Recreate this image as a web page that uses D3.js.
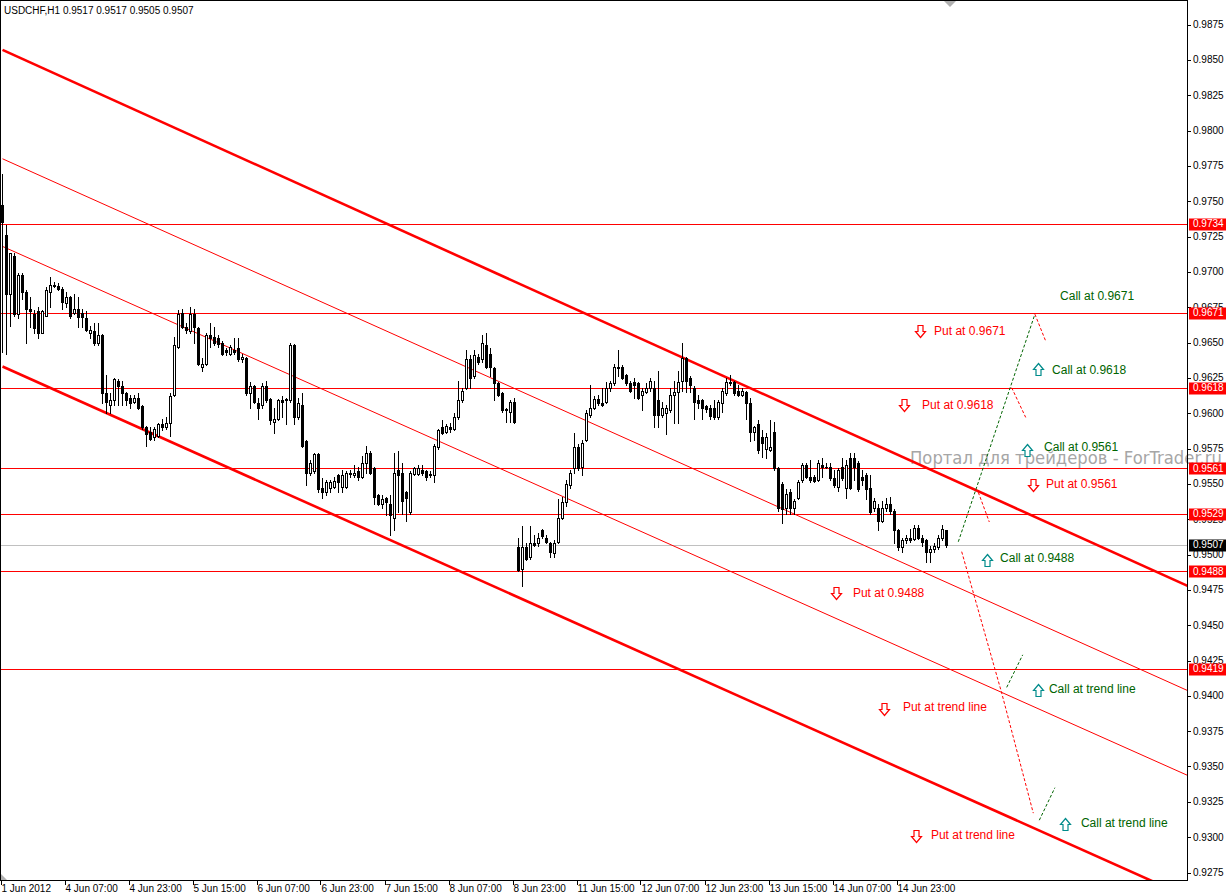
<!DOCTYPE html>
<html><head><meta charset="utf-8">
<script src="https://cdn.jsdelivr.net/npm/d3@7"></script>
<style>html,body{margin:0;padding:0;background:#fff;}svg{display:block;}text{font-family:"Liberation Sans",Arial,sans-serif;}</style>
</head><body><svg id="c" width="1226" height="896"></svg>
<script>
const chartTitle = "USDCHF,H1  0.9517 0.9517 0.9505 0.9507";
const opens = [
0.9747,0.9726,0.9684,0.9711,0.9670,0.9698,0.9686,0.9674,0.9670,0.9672,
0.9657,0.9669,0.9686,0.9691,0.9690,0.9688,0.9678,0.9682,0.9671,0.9674,
0.9671,0.9667,0.9657,0.9658,0.9650,0.9655,0.9614,0.9606,0.9609,0.9623,
0.9619,0.9614,0.9611,0.9608,0.9611,0.9605,0.9590,0.9587,0.9583,0.9584,
0.9592,0.9590,0.9593,0.9613,0.9647,0.9671,0.9661,0.9658,0.9670,0.9660,
0.9633,0.9635,0.9655,0.9654,0.9653,0.9650,0.9645,0.9642,0.9645,0.9646,
0.9638,0.9639,0.9614,0.9619,0.9607,0.9606,0.9619,0.9610,0.9594,0.9596,
0.9609,0.9610,0.9609,0.9648,0.9597,0.9606,0.9580,0.9558,0.9559,0.9571,
0.9547,0.9544,0.9547,0.9548,0.9556,0.9548,0.9548,0.9558,0.9556,0.9559,
0.9555,0.9565,0.9572,0.9561,0.9542,0.9536,0.9540,0.9536,0.9526,0.9560,
0.9558,0.9544,0.9530,0.9557,0.9557,0.9560,0.9559,0.9556,0.9556,0.9576,
0.9590,0.9587,0.9590,0.9589,0.9597,0.9609,0.9618,0.9638,0.9626,0.9640,
0.9638,0.9648,0.9642,0.9632,0.9621,0.9614,0.9603,0.9601,0.9608,0.9505,
0.9490,0.9505,0.9498,0.9508,0.9508,0.9517,0.9512,0.9508,0.9501,0.9509,
0.9526,0.9537,0.9549,0.9561,0.9576,0.9562,0.9581,0.9599,0.9604,0.9610,
0.9607,0.9608,0.9618,0.9621,0.9633,0.9633,0.9627,0.9621,0.9622,0.9621,
0.9613,0.9615,0.9618,0.9618,0.9609,0.9599,0.9600,0.9602,0.9613,0.9615,
0.9623,0.9639,0.9625,0.9618,0.9609,0.9609,0.9605,0.9604,0.9604,0.9597,
0.9607,0.9614,0.9621,0.9622,0.9616,0.9613,0.9615,0.9607,0.9587,0.9592,
0.9583,0.9575,0.9574,0.9587,0.9561,0.9550,0.9533,0.9544,0.9533,0.9540,
0.9553,0.9563,0.9555,0.9555,0.9553,0.9563,0.9562,0.9562,0.9554,0.9548,
0.9562,0.9547,0.9568,0.9568,0.9565,0.9555,0.9556,0.9547,0.9533,0.9533,
0.9524,0.9533,0.9536,0.9531,0.9517,0.9505,0.9510,0.9512,0.9511,0.9519,
0.9512,0.9510,0.9502,0.9504,0.9505,0.9512,0.9517];
const highs = [
0.9769,0.9733,0.9713,0.9713,0.9699,0.9699,0.9687,0.9682,0.9673,0.9675,
0.9673,0.9689,0.9696,0.9693,0.9692,0.9689,0.9686,0.9683,0.9684,0.9682,
0.9674,0.9672,0.9662,0.9664,0.9664,0.9656,0.9627,0.9614,0.9625,0.9624,
0.9623,0.9615,0.9613,0.9613,0.9614,0.9606,0.9591,0.9590,0.9590,0.9593,
0.9596,0.9597,0.9614,0.9654,0.9673,0.9674,0.9664,0.9675,0.9674,0.9661,
0.9639,0.9657,0.9664,0.9661,0.9655,0.9651,0.9646,0.9648,0.9653,0.9653,
0.9642,0.9640,0.9622,0.9620,0.9611,0.9621,0.9623,0.9611,0.9604,0.9610,
0.9612,0.9611,0.9650,0.9649,0.9611,0.9614,0.9581,0.9567,0.9572,0.9572,
0.9554,0.9553,0.9553,0.9555,0.9557,0.9560,0.9559,0.9560,0.9563,0.9562,
0.9570,0.9577,0.9573,0.9562,0.9543,0.9542,0.9541,0.9542,0.9572,0.9573,
0.9565,0.9545,0.9559,0.9562,0.9563,0.9563,0.9560,0.9559,0.9578,0.9589,
0.9595,0.9592,0.9593,0.9600,0.9623,0.9618,0.9645,0.9641,0.9645,0.9642,
0.9655,0.9657,0.9646,0.9633,0.9622,0.9615,0.9604,0.9609,0.9611,0.9512,
0.9520,0.9508,0.9520,0.9514,0.9515,0.9518,0.9514,0.9509,0.9510,0.9539,
0.9541,0.9553,0.9560,0.9586,0.9578,0.9581,0.9602,0.9620,0.9612,0.9613,
0.9618,0.9622,0.9623,0.9635,0.9645,0.9634,0.9628,0.9623,0.9625,0.9622,
0.9618,0.9621,0.9625,0.9623,0.9630,0.9608,0.9606,0.9618,0.9623,0.9630,
0.9650,0.9640,0.9626,0.9619,0.9613,0.9610,0.9606,0.9606,0.9609,0.9609,
0.9618,0.9625,0.9627,0.9623,0.9620,0.9618,0.9616,0.9611,0.9591,0.9595,
0.9588,0.9586,0.9595,0.9594,0.9562,0.9551,0.9546,0.9546,0.9539,0.9553,
0.9565,0.9565,0.9567,0.9556,0.9567,0.9568,0.9565,0.9565,0.9560,0.9561,
0.9568,0.9567,0.9572,0.9572,0.9566,0.9560,0.9558,0.9556,0.9540,0.9536,
0.9538,0.9540,0.9541,0.9532,0.9518,0.9512,0.9514,0.9518,0.9521,0.9521,
0.9514,0.9511,0.9506,0.9508,0.9514,0.9521,0.9517];
const lows = [
0.9643,0.9642,0.9662,0.9669,0.9667,0.9681,0.9650,0.9661,0.9657,0.9653,
0.9657,0.9669,0.9675,0.9689,0.9687,0.9674,0.9675,0.9667,0.9670,0.9661,
0.9661,0.9658,0.9653,0.9648,0.9648,0.9607,0.9600,0.9600,0.9606,0.9606,
0.9606,0.9606,0.9604,0.9607,0.9603,0.9589,0.9577,0.9581,0.9581,0.9583,
0.9588,0.9589,0.9584,0.9612,0.9646,0.9660,0.9657,0.9657,0.9650,0.9634,
0.9630,0.9634,0.9647,0.9648,0.9647,0.9641,0.9641,0.9641,0.9642,0.9637,
0.9636,0.9613,0.9604,0.9607,0.9596,0.9604,0.9608,0.9592,0.9586,0.9595,
0.9597,0.9592,0.9608,0.9592,0.9596,0.9576,0.9549,0.9556,0.9558,0.9544,
0.9540,0.9542,0.9544,0.9547,0.9544,0.9544,0.9547,0.9555,0.9555,0.9553,
0.9554,0.9558,0.9557,0.9536,0.9535,0.9533,0.9528,0.9514,0.9517,0.9530,
0.9529,0.9524,0.9529,0.9556,0.9556,0.9556,0.9553,0.9555,0.9551,0.9575,
0.9585,0.9586,0.9587,0.9588,0.9596,0.9608,0.9617,0.9618,0.9625,0.9635,
0.9636,0.9632,0.9626,0.9609,0.9612,0.9601,0.9594,0.9594,0.9593,0.9488,
0.9478,0.9496,0.9497,0.9506,0.9506,0.9512,0.9508,0.9498,0.9498,0.9508,
0.9525,0.9534,0.9547,0.9558,0.9560,0.9556,0.9580,0.9597,0.9603,0.9606,
0.9605,0.9607,0.9616,0.9620,0.9626,0.9624,0.9620,0.9615,0.9611,0.9610,
0.9602,0.9614,0.9616,0.9590,0.9590,0.9597,0.9585,0.9601,0.9593,0.9593,
0.9616,0.9615,0.9615,0.9596,0.9604,0.9596,0.9601,0.9596,0.9596,0.9596,
0.9601,0.9613,0.9620,0.9613,0.9612,0.9612,0.9596,0.9580,0.9581,0.9572,
0.9569,0.9568,0.9573,0.9560,0.9531,0.9522,0.9529,0.9529,0.9529,0.9539,
0.9551,0.9554,0.9551,0.9551,0.9552,0.9555,0.9561,0.9553,0.9548,0.9545,
0.9553,0.9540,0.9546,0.9553,0.9545,0.9549,0.9539,0.9529,0.9531,0.9517,
0.9523,0.9531,0.9529,0.9508,0.9503,0.9502,0.9508,0.9509,0.9510,0.9511,
0.9506,0.9495,0.9495,0.9502,0.9504,0.9510,0.9505];
const closes = [
0.9735,0.9684,0.9713,0.9670,0.9698,0.9686,0.9674,0.9672,0.9660,0.9657,
0.9672,0.9687,0.9691,0.9690,0.9688,0.9679,0.9682,0.9669,0.9674,0.9668,
0.9668,0.9659,0.9659,0.9650,0.9655,0.9614,0.9608,0.9609,0.9624,0.9619,
0.9614,0.9609,0.9607,0.9611,0.9604,0.9590,0.9585,0.9582,0.9589,0.9592,
0.9590,0.9593,0.9612,0.9648,0.9670,0.9661,0.9659,0.9670,0.9661,0.9635,
0.9635,0.9655,0.9653,0.9650,0.9649,0.9642,0.9643,0.9647,0.9643,0.9638,
0.9640,0.9614,0.9619,0.9608,0.9604,0.9619,0.9609,0.9595,0.9596,0.9609,
0.9608,0.9609,0.9648,0.9597,0.9607,0.9577,0.9558,0.9565,0.9571,0.9546,
0.9544,0.9551,0.9551,0.9552,0.9551,0.9556,0.9558,0.9557,0.9558,0.9555,
0.9565,0.9572,0.9558,0.9541,0.9536,0.9539,0.9537,0.9528,0.9558,0.9556,
0.9538,0.9540,0.9558,0.9561,0.9561,0.9558,0.9555,0.9557,0.9577,0.9588,
0.9586,0.9591,0.9589,0.9597,0.9609,0.9616,0.9638,0.9625,0.9641,0.9636,
0.9650,0.9633,0.9633,0.9621,0.9613,0.9602,0.9602,0.9608,0.9594,0.9489,
0.9505,0.9497,0.9508,0.9507,0.9512,0.9513,0.9509,0.9502,0.9508,0.9526,
0.9537,0.9550,0.9558,0.9576,0.9561,0.9579,0.9600,0.9604,0.9610,0.9607,
0.9606,0.9618,0.9621,0.9633,0.9632,0.9625,0.9621,0.9616,0.9620,0.9611,
0.9616,0.9618,0.9623,0.9599,0.9599,0.9604,0.9604,0.9613,0.9615,0.9622,
0.9639,0.9623,0.9620,0.9608,0.9607,0.9604,0.9603,0.9598,0.9597,0.9608,
0.9616,0.9622,0.9622,0.9614,0.9613,0.9616,0.9607,0.9587,0.9590,0.9574,
0.9579,0.9583,0.9576,0.9561,0.9533,0.9532,0.9543,0.9533,0.9538,0.9551,
0.9563,0.9555,0.9553,0.9552,0.9565,0.9562,0.9562,0.9554,0.9549,0.9560,
0.9554,0.9563,0.9547,0.9562,0.9546,0.9553,0.9546,0.9530,0.9538,0.9524,
0.9533,0.9536,0.9531,0.9517,0.9505,0.9510,0.9512,0.9510,0.9519,0.9512,
0.9509,0.9502,0.9504,0.9506,0.9512,0.9518,0.9507];

const timeTickIndex = [0,16,32,48,64,80,96,112,128,144,160,176,192,208,224];
const timeTickLabels = ["1 Jun 2012","4 Jun 07:00","4 Jun 23:00","5 Jun 15:00","6 Jun 07:00","6 Jun 23:00","7 Jun 15:00","8 Jun 07:00","8 Jun 23:00","11 Jun 15:00","12 Jun 07:00","12 Jun 23:00","13 Jun 15:00","14 Jun 07:00","14 Jun 23:00"];
const priceTicks = d3.range(0, 25).map(k => +(0.9275 + k * 0.0025).toFixed(4));
const levelPrices = [0.9734, 0.9671, 0.9618, 0.9561, 0.9529, 0.9488, 0.9419];
const bidPrice = 0.9507;

// channel lines: price at bar 0 and at bar 300
const channelNames = ["upperBound", "innerUpper", "innerLower", "lowerBound"];
const channelStartPrice = [0.9857, 0.9780, 0.9718, 0.9633];
const channelEndPrice = [0.9473, 0.9399, 0.9339, 0.9253];

// scenario paths: [bar, price]
const callPaths = [
  [[238.95, 0.9509], [258.1, 0.9670]],
  [[251.05, 0.9406], [255.05, 0.9429]],
  [[259.2, 0.9312], [263.1, 0.9335]]
];
const putPaths = [
  [[258.1, 0.9670], [260.8, 0.9651]],
  [[252.3, 0.9618], [255.8, 0.9597]],
  [[243.95, 0.9544], [246.7, 0.9523]],
  [[239.8, 0.9502], [249.8, 0.9402], [257.7, 0.9317]]
];
const callLabels = ["Call at 0.9671", "Call at 0.9618", "Call at 0.9561", "Call at 0.9488", "Call at trend line", "Call at trend line"];
const callLabelPos = [[264.4, 0.9683], [262.4, 0.9631], [260.4, 0.9576], [249.4, 0.9498], [261.6, 0.9405], [269.6, 0.9310]];
const callArrowPos = [[258.9, 0.9631], [256.1, 0.9574], [246.1, 0.9496], [258.9, 0.9404], [265.6, 0.9309]];
const putLabels = ["Put at 0.9671", "Put at 0.9618", "Put at 0.9561", "Put at 0.9488", "Put at trend line", "Put at trend line"];
const putLabelPos = [[232.9, 0.9658], [229.9, 0.9606], [260.9, 0.9550], [212.6, 0.9473], [225.1, 0.9392], [232.1, 0.9302]];
const putArrowPos = [[229.4, 0.9658], [225.4, 0.9606], [257.6, 0.9549], [208.4, 0.9473], [220.4, 0.9391], [228.4, 0.9301]];
const watermark = "Портал для трейдеров - ForTrader.ru";

// ---------- drawing ----------
const W = 1226, H = 896, plotR = 1187, plotB = 880;
const svg = d3.select("#c");
const x = d3.scaleLinear().domain([0, 236]).range([2.5, 946.5]);
const y = d3.scaleLinear().domain([0.9875, 0.9275]).range([24.5, 872.5]);
const crisp = v => Math.round(v) + 0.5;
const RED = "#ff0000", GREEN = "#006400";

svg.append("rect").attr("width", W).attr("height", H).attr("fill", "#fff");
svg.append("defs").append("clipPath").attr("id", "clip")
  .append("rect").attr("x", 0).attr("y", 0).attr("width", plotR).attr("height", plotB);

// watermark
svg.append("text").attr("x", 910).attr("y", 458).attr("dy", "0.35em")
  .attr("font-size", 17).attr("fill", "#a6a6a6")
  .attr("textLength", 312).attr("lengthAdjust", "spacingAndGlyphs")
  .style("font-family", "'DejaVu Sans', sans-serif").text(watermark);

const plot = svg.append("g").attr("clip-path", "url(#clip)");

// bid line
plot.append("line").attr("x1", 0).attr("x2", plotR).attr("y1", crisp(y(bidPrice))).attr("y2", crisp(y(bidPrice)))
  .attr("stroke", "#c0c0c0");
// horizontal levels
plot.selectAll("line.lvl").data(levelPrices).join("line").attr("class", "lvl")
  .attr("x1", 0).attr("x2", plotR).attr("y1", d => crisp(y(d))).attr("y2", d => crisp(y(d)))
  .attr("stroke", RED).attr("stroke-width", 1);
// channel lines
channelNames.forEach((n, k) => {
  const thick = (n === "upperBound" || n === "lowerBound");
  plot.append("line").attr("x1", x(0)).attr("y1", y(channelStartPrice[k]))
    .attr("x2", x(300)).attr("y2", y(channelEndPrice[k]))
    .attr("stroke", RED).attr("stroke-width", thick ? 2.6 : 1);
});

// candles
const idx = d3.range(opens.length);
const cg = plot.append("g");
idx.forEach(i => {
  const xc = x(i);
  const yh = Math.round(y(highs[i])), yl = Math.round(y(lows[i]));
  cg.append("rect").attr("x", xc - 0.5).attr("y", yh).attr("width", 1).attr("height", Math.max(1, yl - yh + 1)).attr("fill", "#000");
  const yo = Math.round(y(opens[i])), yc = Math.round(y(closes[i]));
  const top = Math.min(yo, yc), h = Math.abs(yo - yc);
  if (closes[i] > opens[i]) {
    if (h <= 1) {
      cg.append("rect").attr("x", xc - 1.5).attr("y", top).attr("width", 3).attr("height", h + 1).attr("fill", "#000");
    } else {
      cg.append("rect").attr("x", xc - 1).attr("y", top + 0.5).attr("width", 2).attr("height", h)
        .attr("fill", "#fff").attr("stroke", "#000").attr("stroke-width", 1);
    }
  } else {
    cg.append("rect").attr("x", xc - 1.5).attr("y", top).attr("width", 3).attr("height", h + 1).attr("fill", "#000");
  }
});

// scenario paths
const lineGen = d3.line().x(d => x(d[0])).y(d => y(d[1]));
plot.selectAll("path.call").data(callPaths).join("path").attr("class", "call")
  .attr("d", lineGen).attr("fill", "none").attr("stroke", GREEN).attr("stroke-width", 1).attr("stroke-dasharray", "3,2");
plot.selectAll("path.put").data(putPaths).join("path").attr("class", "put")
  .attr("d", lineGen).attr("fill", "none").attr("stroke", RED).attr("stroke-width", 1).attr("stroke-dasharray", "3,2");

// arrows
function upArrow(cx, cy) {
  return `M${cx},${cy - 6} L${cx + 5},${cy} L${cx + 2.5},${cy} L${cx + 2.5},${cy + 6} L${cx - 2.5},${cy + 6} L${cx - 2.5},${cy} L${cx - 5},${cy} Z`;
}
function downArrow(cx, cy) {
  return `M${cx},${cy + 6} L${cx + 5},${cy} L${cx + 2.5},${cy} L${cx + 2.5},${cy - 6} L${cx - 2.5},${cy - 6} L${cx - 2.5},${cy} L${cx - 5},${cy} Z`;
}
plot.selectAll("path.ua").data(callArrowPos).join("path").attr("class", "ua")
  .attr("d", d => upArrow(Math.round(x(d[0])) + 0.5, Math.round(y(d[1])) + 0.5))
  .attr("fill", "#fff").attr("stroke", "#008b8b").attr("stroke-width", 1.2);
plot.selectAll("path.da").data(putArrowPos).join("path").attr("class", "da")
  .attr("d", d => downArrow(Math.round(x(d[0])) + 0.5, Math.round(y(d[1])) + 0.5))
  .attr("fill", "#fff").attr("stroke", RED).attr("stroke-width", 1.2);

// labels
plot.selectAll("text.cl").data(callLabels).join("text").attr("class", "cl")
  .attr("x", (d, k) => x(callLabelPos[k][0])).attr("y", (d, k) => y(callLabelPos[k][1])).attr("dy", "0.35em")
  .attr("font-size", 12).attr("fill", GREEN).text(d => d);
plot.selectAll("text.pl").data(putLabels).join("text").attr("class", "pl")
  .attr("x", (d, k) => x(putLabelPos[k][0])).attr("y", (d, k) => y(putLabelPos[k][1])).attr("dy", "0.35em")
  .attr("font-size", 12).attr("fill", RED).text(d => d);

// frame
svg.append("line").attr("x1", 0).attr("x2", plotR + 0.5).attr("y1", 0.5).attr("y2", 0.5).attr("stroke", "#000");
svg.append("line").attr("x1", 0.5).attr("x2", 0.5).attr("y1", 0).attr("y2", plotB + 0.5).attr("stroke", "#000");
svg.append("line").attr("x1", plotR + 0.5).attr("x2", plotR + 0.5).attr("y1", 0).attr("y2", plotB + 1).attr("stroke", "#000");
svg.append("line").attr("x1", 0).attr("x2", plotR + 0.5).attr("y1", plotB + 0.5).attr("y2", plotB + 0.5).attr("stroke", "#000");

// shift markers
svg.append("path").attr("d", "M944,1 L956,1 L950,7 Z").attr("fill", "#b0b0b0");
svg.append("path").attr("d", "M1,874 L1,880 L7,880 Z").attr("fill", "#b0b0b0");

// title
svg.append("text").attr("x", 4).attr("y", 10).attr("dy", "0.35em").attr("font-size", 10).attr("fill", "#000").text(chartTitle);

// price axis
const pa = svg.append("g");
pa.selectAll("line.pt").data(priceTicks).join("line").attr("class", "pt")
  .attr("x1", plotR).attr("x2", plotR + 4).attr("y1", d => crisp(y(d))).attr("y2", d => crisp(y(d))).attr("stroke", "#000");
pa.selectAll("text.pt").data(priceTicks).join("text").attr("class", "pt")
  .attr("x", plotR + 6).attr("y", d => y(d)).attr("dy", "0.35em").attr("font-size", 10).attr("fill", "#000")
  .text(d => d.toFixed(4));
// level boxes
const boxes = pa.selectAll("g.box").data(levelPrices.map(p => ({p, c: RED})).concat([{p: bidPrice, c: "#000"}]))
  .join("g").attr("class", "box");
boxes.append("rect").attr("x", plotR + 2).attr("y", d => Math.round(y(d.p)) - 5.5).attr("width", 37).attr("height", 12).attr("fill", d => d.c);
boxes.append("text").attr("x", plotR + 6).attr("y", d => y(d.p)).attr("dy", "0.35em").attr("font-size", 10)
  .attr("fill", "#fff").text(d => d.p.toFixed(4));

// time axis
const ta = svg.append("g");
ta.selectAll("line").data(timeTickIndex).join("line")
  .attr("x1", d => crisp(x(d) - 2)).attr("x2", d => crisp(x(d) - 2)).attr("y1", plotB).attr("y2", plotB + 5).attr("stroke", "#000");
ta.selectAll("text").data(timeTickLabels).join("text")
  .attr("x", (d, k) => x(timeTickIndex[k]) - 1).attr("y", 888).attr("dy", "0.35em").attr("font-size", 10).attr("fill", "#000")
  .text(d => d);
</script></body></html>
